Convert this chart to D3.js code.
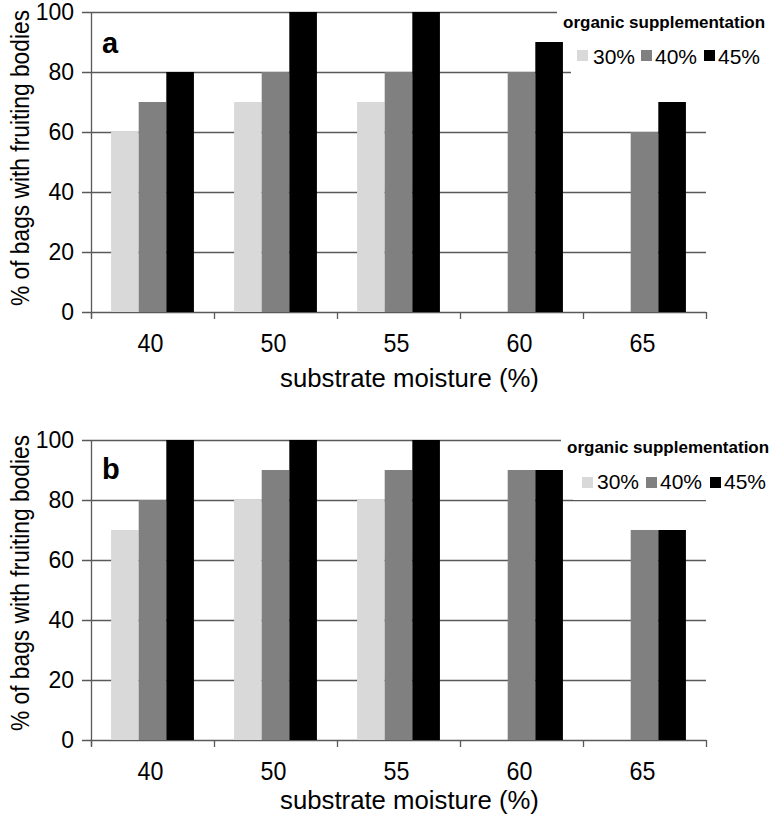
<!DOCTYPE html>
<html>
<head>
<meta charset="utf-8">
<script src="https://cdn.jsdelivr.net/npm/d3@7"></script>
<style>
  html, body { margin: 0; padding: 0; background: #fff; }
  svg { display: block; font-family: "Liberation Sans", Arial, sans-serif; }
</style>
</head>
<body>
<svg id="chart" width="774" height="821"></svg>
<script>
// ---- data ----
const categories = ["40", "50", "55", "60", "65"];
const seriesNames = ["30%", "40%", "45%"];
const seriesColors = ["#d9d9d9", "#808080", "#000000"];
const yTicks = [0, 20, 40, 60, 80, 100];

// panel a
const a30 = [60, 70, 70, null, null];
const a40 = [70, 80, 80, 80, 60];
const a45 = [80, 100, 100, 90, 70];

// panel b
const b30 = [70, 80, 80, null, null];
const b40 = [80, 90, 90, 90, 70];
const b45 = [100, 100, 100, 90, 70];

const panelLetters = ["a", "b"];
const legendTitle = "organic supplementation";
const xTitle = "substrate moisture (%)";
const yTitle = "% of bags with fruiting bodies";

// ---- layout ----
const panels = [
  { letter: panelLetters[0], series: [a30, a40, a45], top: 12, bottom: 312,
    xTitleY: 387, yTitleC: 158, legTitleX: 563, legTitleY: 28, legBox1: [557, 0, 217, 38], legBox2: [571, 40, 203, 36],
    legItemX: [577, 641, 704], legTextX: [593, 655, 718], legY: 50, legTextY: 64, letterY: 53 },
  { letter: panelLetters[1], series: [b30, b40, b45], top: 440, bottom: 740,
    xTitleY: 809, yTitleC: 583, legTitleX: 567, legTitleY: 453, legBox1: [561, 426, 213, 36], legBox2: [573, 464, 201, 36],
    legItemX: [582, 646, 710], legTextX: [597, 660, 724], legY: 477, legTextY: 489, letterY: 479 }
];

const left = 91, right = 706;
const svg = d3.select("#chart");
const gridColor = "#595959";

panels.forEach(p => {
  const g = svg.append("g");
  const x0 = d3.scaleBand().domain(categories).range([left, right]).paddingInner(0).paddingOuter(0);
  const x1 = d3.scaleBand().domain(seriesNames).range([0, x0.bandwidth()]).paddingInner(0).paddingOuter(0.727);
  const y = d3.scaleLinear().domain([0, 100]).range([p.bottom, p.top]);

  // gridlines
  g.append("g").selectAll("line").data(yTicks).join("line")
    .attr("x1", left - 9).attr("x2", right)
    .attr("y1", d => Math.round(y(d)) + 0.5).attr("y2", d => Math.round(y(d)) + 0.5)
    .attr("stroke", gridColor).attr("stroke-width", 1.3);

  // y axis line
  g.append("line").attr("x1", left + 0.5).attr("x2", left + 0.5)
    .attr("y1", y(100)).attr("y2", y(0) + 6)
    .attr("stroke", gridColor).attr("stroke-width", 1.3);

  // y tick labels
  g.append("g").selectAll("text").data(yTicks).join("text")
    .attr("x", left - 17).attr("y", d => y(d)).attr("dy", "0.36em")
    .attr("text-anchor", "end").attr("font-size", 23).attr("fill", "#000")
    .text(d => d);

  // x ticks at category boundaries
  const bounds = categories.map(c => x0(c)).concat([right]);
  g.append("g").selectAll("line").data(bounds).join("line")
    .attr("x1", d => Math.round(d) + 0.5).attr("x2", d => Math.round(d) + 0.5)
    .attr("y1", y(0)).attr("y2", y(0) + 7)
    .attr("stroke", gridColor).attr("stroke-width", 1.3);

  // bars
  seriesNames.forEach((s, si) => {
    g.append("g").selectAll("rect").data(categories.map((c, ci) => ({ c, v: p.series[si][ci] })).filter(d => d.v != null))
      .join("rect")
      .attr("x", d => x0(d.c) + x1(s)).attr("width", x1.bandwidth())
      .attr("y", d => y(d.v)).attr("height", d => y(0) - y(d.v))
      .attr("fill", seriesColors[si]);
  });

  // x tick labels
  g.append("g").selectAll("text").data(categories).join("text")
    .attr("transform", d => `translate(${x0(d) + x0.bandwidth() / 2 - 2},${y(0) + 40}) scale(0.93,1)`)
    .attr("text-anchor", "middle").attr("font-size", 25).attr("fill", "#000")
    .text(d => d);

  // x title
  g.append("text")
    .attr("transform", `translate(${(left + right) / 2 + 11},${p.xTitleY}) scale(1.03,1)`)
    .attr("text-anchor", "middle")
    .attr("font-size", 25).attr("fill", "#000")
    .text(xTitle);

  // y title
  g.append("text")
    .attr("transform", `translate(29,${p.yTitleC}) rotate(-90) scale(0.99,1.13)`)
    .attr("text-anchor", "middle")
    .attr("font-size", 23).attr("fill", "#000")
    .text(yTitle);

  // panel letter
  g.append("text").attr("x", 102).attr("y", p.letterY)
    .attr("font-size", 29).attr("font-weight", "bold").attr("fill", "#000")
    .text(p.letter);

  // legend
  g.append("rect").attr("x", p.legBox1[0]).attr("y", p.legBox1[1]).attr("width", p.legBox1[2]).attr("height", p.legBox1[3]).attr("fill", "#fff");
  g.append("rect").attr("x", p.legBox2[0]).attr("y", p.legBox2[1]).attr("width", p.legBox2[2]).attr("height", p.legBox2[3]).attr("fill", "#fff");
  g.append("text").attr("x", p.legTitleX).attr("y", p.legTitleY)
    .attr("font-size", 17).attr("font-weight", "bold").attr("fill", "#000")
    .text(legendTitle);
  g.append("g").selectAll("rect").data(seriesNames).join("rect")
    .attr("x", (d, i) => p.legItemX[i]).attr("y", p.legY).attr("width", 11).attr("height", 11)
    .attr("fill", (d, i) => seriesColors[i]);
  g.append("g").selectAll("text").data(seriesNames).join("text")
    .attr("x", (d, i) => p.legTextX[i]).attr("y", p.legTextY)
    .attr("font-size", 21).attr("fill", "#000")
    .text(d => d);
});
</script>
</body>
</html>
